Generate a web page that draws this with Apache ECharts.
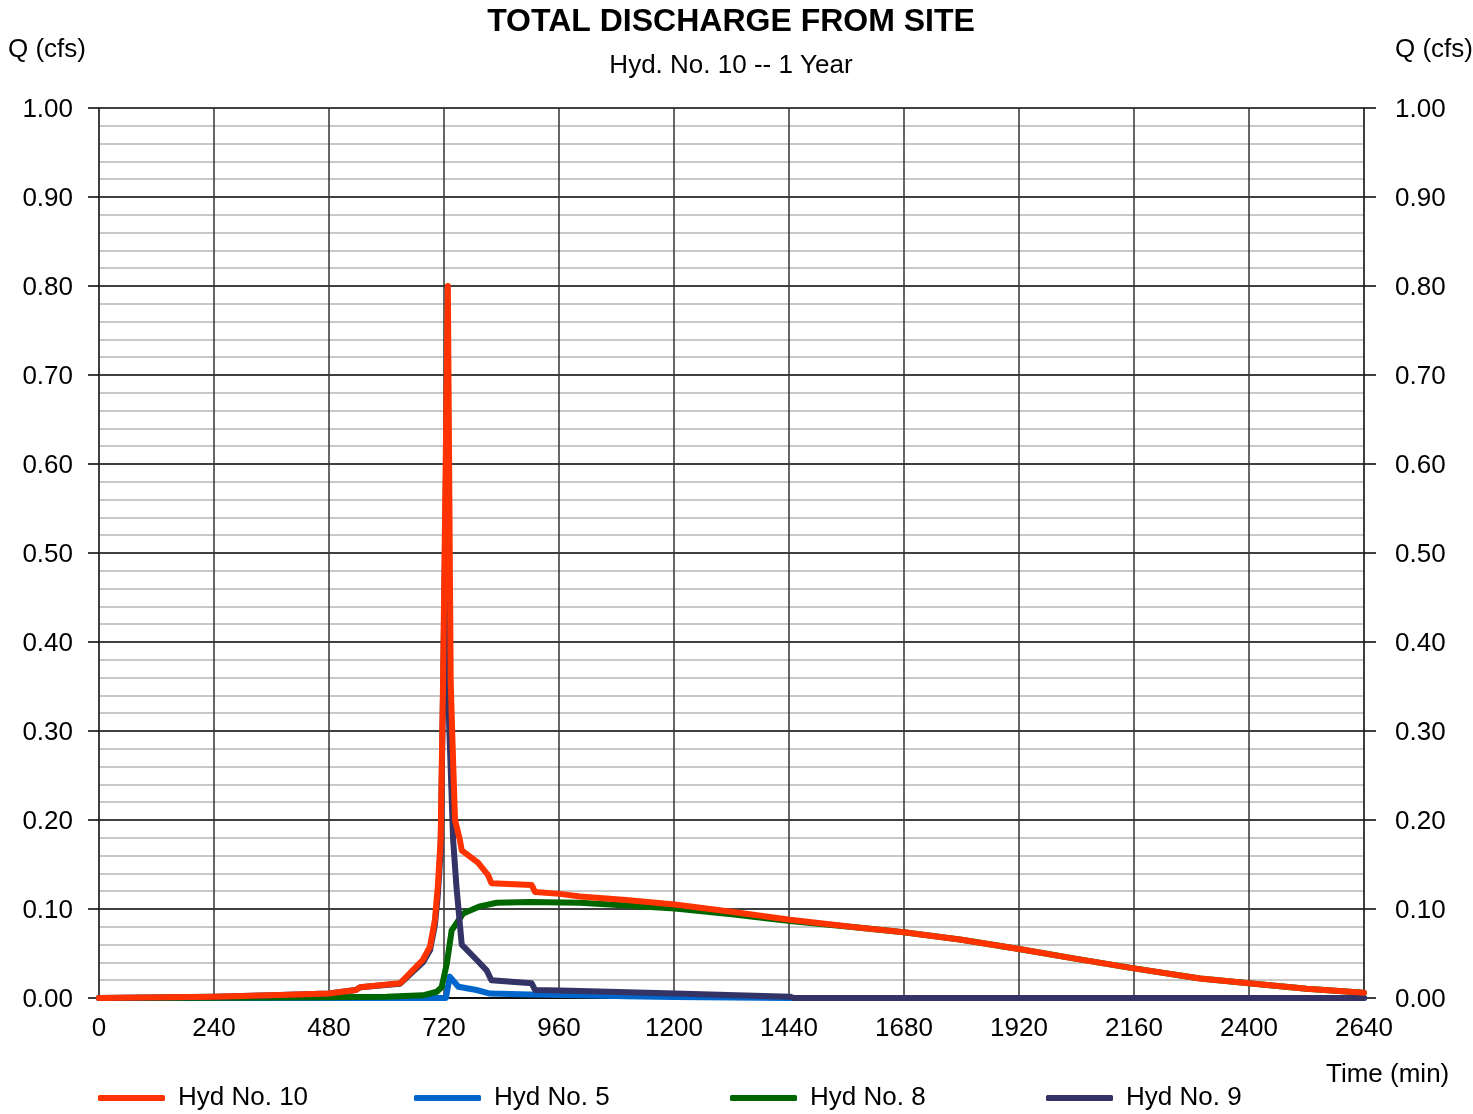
<!DOCTYPE html>
<html>
<head>
<meta charset="utf-8">
<title>Total Discharge From Site</title>
<script src="https://cdn.jsdelivr.net/npm/echarts@6/dist/echarts.min.js"></script>
<style>
  html, body { margin: 0; padding: 0; background: #ffffff; }
  #chart { width: 1473px; height: 1114px; }
</style>
</head>
<body>
<div id="chart"></div>
<script>
// Hydrograph ordinates: time (min) and discharge Q (cfs) for each hydrograph
var hyd10Time = [0, 240, 378, 480, 536, 545, 628, 642, 676, 691, 701, 707, 713, 718, 728, 734, 737, 743, 753, 757, 791, 812, 819, 903, 910, 962, 1004, 1100, 1202, 1320, 1442, 1588, 1680, 1800, 1920, 2040, 2160, 2298, 2400, 2520, 2640];
var hyd10Q    = [0, 0.0015, 0.0034, 0.005, 0.009, 0.012, 0.0165, 0.024, 0.043, 0.058, 0.088, 0.125, 0.178, 0.355, 0.80, 0.355, 0.30, 0.20, 0.178, 0.166, 0.152, 0.138, 0.129, 0.127, 0.119, 0.117, 0.114, 0.110, 0.105, 0.097, 0.088, 0.079, 0.0738, 0.0655, 0.055, 0.044, 0.0333, 0.022, 0.0165, 0.0105, 0.006];

var hyd5Time = [0, 724, 732, 750, 788, 816, 900, 1000, 1100, 1200, 1320, 1440, 2640];
var hyd5Q    = [0, 0, 0.024, 0.0127, 0.009, 0.005, 0.004, 0.003, 0.002, 0.0012, 0.0006, 0, 0];

var hyd8Time = [0, 240, 480, 600, 676, 705, 715, 726, 736, 760, 795, 830, 899, 1004, 1100, 1202, 1320, 1442, 1588, 1680, 1800, 1920, 2040, 2160, 2298, 2400, 2520, 2640];
var hyd8Q    = [0, 0.0003, 0.0008, 0.0013, 0.003, 0.007, 0.012, 0.039, 0.076, 0.095, 0.103, 0.107, 0.108, 0.107, 0.104, 0.1005, 0.094, 0.0865, 0.079, 0.0738, 0.0655, 0.055, 0.044, 0.0333, 0.022, 0.0165, 0.0105, 0.006];

var hyd9Time = [0, 240, 378, 480, 536, 545, 628, 642, 676, 691, 701, 707, 713, 718, 728, 730, 739, 746, 757, 788, 809, 819, 903, 910, 962, 1004, 1202, 1442, 1450, 2640];
var hyd9Q    = [0, 0.0015, 0.0034, 0.005, 0.009, 0.012, 0.016, 0.023, 0.040, 0.054, 0.082, 0.115, 0.165, 0.34, 0.74, 0.32, 0.178, 0.125, 0.06, 0.043, 0.031, 0.02, 0.0165, 0.009, 0.0085, 0.008, 0.005, 0.0015, 0, 0];

var seriesNames = ['Hyd No. 10', 'Hyd No. 5', 'Hyd No. 8', 'Hyd No. 9'];
var seriesColors = ['#ff3300', '#0066cc', '#006600', '#333366'];

var FONT = '"Liberation Sans", Arial, Helvetica, sans-serif';

function pairs(t, q) {
  return t.map(function (v, i) { return [v, q[i]]; });
}

function lineSeries(idx, data, z) {
  return {
    name: seriesNames[idx],
    type: 'line',
    data: data,
    symbol: 'none',
    z: z,
    animation: false,
    color: seriesColors[idx],
    lineStyle: { color: seriesColors[idx], width: 6, cap: 'round', join: 'round' }
  };
}

// one legend block per hydrograph so the entries sit on an even pitch
var legendLeft = [98, 414, 730, 1046];
var legends = seriesNames.map(function (n, i) {
  return {
    data: [{ name: n, icon: 'roundRect' }],
    left: legendLeft[i],
    top: 1085,
    padding: 0,
    itemWidth: 67,
    itemHeight: 6,
    selectedMode: false,
    textStyle: { fontFamily: FONT, fontSize: 26, color: '#000', padding: [0, 0, 0, 8] }
  };
});

// discharge tick labels, nudged down a little through a rich-text block
function qLabel(v) { return '{q|' + v.toFixed(2) + '}'; }
var qRich = { q: { fontFamily: FONT, fontSize: 26, color: '#000', padding: [4, 0, 0, 0] } };

var chart = echarts.init(document.getElementById('chart'), null, { renderer: 'canvas' });

chart.setOption({
  backgroundColor: '#ffffff',
  animation: false,
  grid: { left: 99, right: 109, top: 108, bottom: 116, containLabel: false },
  legend: legends,
  graphic: [
    { type: 'text', x: 731, y: 22, style: { text: 'TOTAL DISCHARGE FROM SITE', font: 'bold 32px ' + FONT, fill: '#000', textAlign: 'center', textVerticalAlign: 'middle' } },
    { type: 'text', x: 731, y: 66, style: { text: 'Hyd. No. 10 -- 1 Year', font: '26px ' + FONT, fill: '#000', textAlign: 'center', textVerticalAlign: 'middle' } },
    { type: 'text', x: 8, y: 50, style: { text: 'Q (cfs)', font: '26px ' + FONT, fill: '#000', textAlign: 'left', textVerticalAlign: 'middle' } },
    { type: 'text', x: 1395, y: 50, style: { text: 'Q (cfs)', font: '26px ' + FONT, fill: '#000', textAlign: 'left', textVerticalAlign: 'middle' } },
    { type: 'text', x: 1326, y: 1075, style: { text: 'Time (min)', font: '26px ' + FONT, fill: '#000', textAlign: 'left', textVerticalAlign: 'middle' } }
  ],
  xAxis: {
    type: 'value',
    min: 0,
    max: 2640,
    interval: 240,
    axisLine: { show: true, lineStyle: { color: '#000', width: 1.5 } },
    axisTick: { show: false },
    axisLabel: { margin: 18, fontFamily: FONT, fontSize: 26, color: '#000', formatter: function (v) { return String(v); } },
    splitLine: { show: true, lineStyle: { color: '#333333', width: 1.5 } }
  },
  yAxis: [
    {
      type: 'value',
      position: 'left',
      min: 0,
      max: 1,
      interval: 0.1,
      axisLine: { show: true, onZero: false, lineStyle: { color: '#333333', width: 1.5 } },
      axisTick: { show: true, inside: false, length: 11, lineStyle: { color: '#000', width: 1.5 } },
      axisLabel: { margin: 26, formatter: qLabel, rich: qRich },
      minorTick: { show: false, splitNumber: 5 },
      minorSplitLine: { show: true, lineStyle: { color: '#c8c8c8', width: 2 } },
      splitLine: { show: true, lineStyle: { color: '#000', width: 1.5 } }
    },
    {
      type: 'value',
      position: 'right',
      min: 0,
      max: 1,
      interval: 0.1,
      axisLine: { show: true, onZero: false, lineStyle: { color: '#333333', width: 1.5 } },
      axisTick: { show: true, inside: false, length: 12, lineStyle: { color: '#000', width: 1.5 } },
      axisLabel: { margin: 31, formatter: qLabel, rich: qRich },
      splitLine: { show: false }
    }
  ],
  series: [
    lineSeries(1, pairs(hyd5Time, hyd5Q), 3),
    lineSeries(2, pairs(hyd8Time, hyd8Q), 4),
    lineSeries(3, pairs(hyd9Time, hyd9Q), 5),
    lineSeries(0, pairs(hyd10Time, hyd10Q), 6)
  ]
});
</script>
</body>
</html>
